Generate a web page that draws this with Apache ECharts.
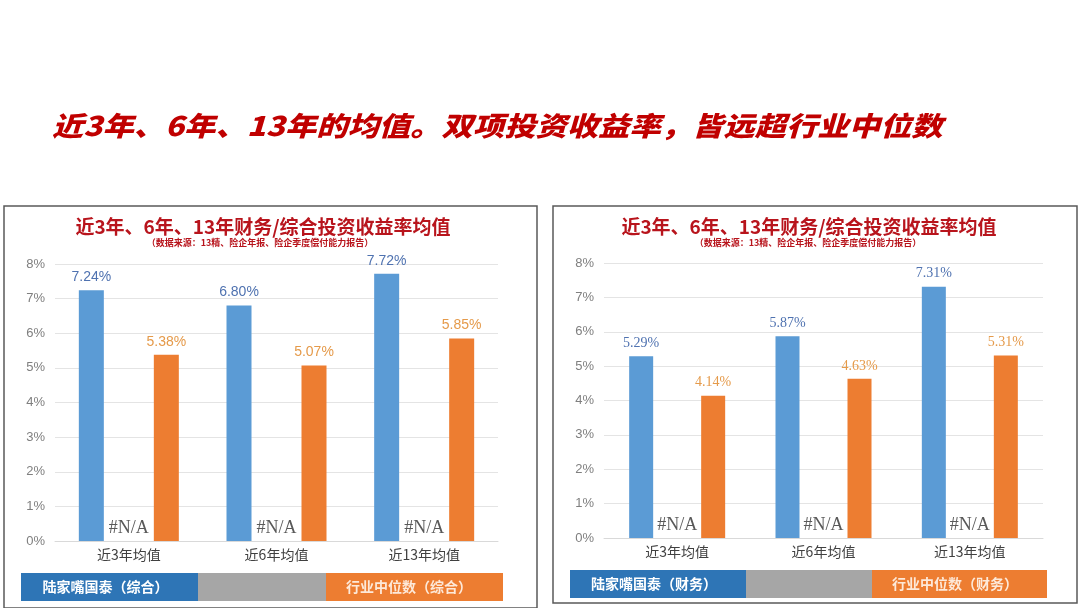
<!DOCTYPE html>
<html>
<head>
<meta charset="utf-8">
<script src="https://cdn.jsdelivr.net/npm/echarts@6/dist/echarts.min.js"></script>
<style>
html,body{margin:0;padding:0;background:#fff;}
#c{width:1080px;height:608px;}
</style>
</head>
<body>
<div id="c"></div>
<script>
const categories = ['近3年均值', '近6年均值', '近13年均值'];
const leftCompany = [7.24, 6.80, 7.72];
const leftIndustry = [5.38, 5.07, 5.85];
const rightCompany = [5.29, 5.87, 7.31];
const rightIndustry = [4.14, 4.63, 5.31];
const naValues = [0, 0, 0];
const naLabel = '#N/A';
const mainTitle = '近3年、6年、13年的均值。双项投资收益率，皆远超行业中位数';
const panelTitle = '近3年、6年、13年财务/综合投资收益率均值';
const panelSub = '（数据来源：13精、险企年报、险企季度偿付能力报告）';
const leftLegend = ['陆家嘴国泰（综合）', '', '行业中位数（综合）'];
const rightLegend = ['陆家嘴国泰（财务）', '', '行业中位数（财务）'];

const BLUE = '#5b9bd5', ORANGE = '#ed7d31', GRAY = '#a5a5a5';
const CJK = '"Noto Sans CJK SC", sans-serif';
const pct = p => p.value.toFixed(2) + '%';

function yAx(gi) {
  return {
    type: 'value', gridIndex: gi, min: 0, max: 8, interval: 1,
    axisLabel: { formatter: '{value}%', color: '#7f7f7f', fontSize: 13, margin: 10, fontFamily: '"Liberation Sans", sans-serif' },
    splitLine: { lineStyle: { color: '#e4e4e4', width: 1 } },
    axisLine: { show: false }, axisTick: { show: false }
  };
}
function xAx(gi) {
  return {
    type: 'category', gridIndex: gi, data: categories,
    axisLabel: { color: '#404040', fontSize: 14, margin: 7, fontFamily: CJK },
    axisLine: { lineStyle: { color: '#d9d9d9' } }, axisTick: { show: false }
  };
}
function barSeries(gi, data, color, labelColor, font, bw) {
  return {
    type: 'bar', xAxisIndex: gi, yAxisIndex: gi, data: data, barWidth: bw, barGap: '50%',
    itemStyle: { color: color },
    label: { show: true, position: 'top', distance: 6, formatter: pct, color: labelColor, fontSize: 14, fontFamily: font }
  };
}
function naSeries(gi, bw) {
  return {
    type: 'bar', xAxisIndex: gi, yAxisIndex: gi, data: naValues, barWidth: bw, barGap: '50%',
    itemStyle: { color: GRAY },
    label: { show: true, position: 'top', distance: 4, formatter: naLabel, color: '#595959', fontSize: 18, fontFamily: '"Liberation Serif", serif' }
  };
}

function legendBlocks(x0, x1, x2, x3, y, h, texts) {
  return [
    { type: 'rect', shape: { x: x0, y: y, width: x1 - x0, height: h }, style: { fill: '#2e75b6' } },
    { type: 'rect', shape: { x: x1, y: y, width: x2 - x1, height: h }, style: { fill: '#a6a6a6' } },
    { type: 'rect', shape: { x: x2, y: y, width: x3 - x2, height: h }, style: { fill: ORANGE } },
    { type: 'text', x: (x0 + x1) / 2 - 4, y: y + h / 2, style: { text: texts[0], fill: '#ffffff', font: 'bold 14px ' + CJK, textAlign: 'center', textVerticalAlign: 'middle' } },
    { type: 'text', x: x2 + 20, y: y + h / 2, style: { text: texts[2], fill: '#fde9d9', font: 'bold 14px ' + CJK, textAlign: 'left', textVerticalAlign: 'middle' } }
  ];
}

const chart = echarts.init(document.getElementById('c'));
chart.setOption({
  backgroundColor: '#ffffff',
  animation: false,
  grid: [
    { left: 55, top: 264, width: 443, height: 277 },
    { left: 604, top: 263, width: 439, height: 275 }
  ],
  xAxis: [xAx(0), xAx(1)],
  yAxis: [yAx(0), yAx(1)],
  series: [
    barSeries(0, leftCompany, BLUE, '#4f72b0', '"Liberation Sans", sans-serif', 25),
    naSeries(0, 25),
    barSeries(0, leftIndustry, ORANGE, '#e59a4a', '"Liberation Sans", sans-serif', 25),
    barSeries(1, rightCompany, BLUE, '#4f72b0', '"Liberation Serif", serif', 24),
    naSeries(1, 24),
    barSeries(1, rightIndustry, ORANGE, '#e59a4a', '"Liberation Serif", serif', 24)
  ],
  graphic: [
    { type: 'text', x: 52, y: 126, scaleX: 1.16,
      style: { text: mainTitle, fill: '#c00000', font: 'italic 900 27px ' + CJK, textVerticalAlign: 'middle',
        textShadowColor: 'rgba(230,120,120,0.6)', textShadowOffsetX: 2, textShadowOffsetY: 2, textShadowBlur: 0 } },
    { type: 'rect', shape: { x: 4, y: 206, width: 533, height: 402 }, style: { fill: 'none', stroke: '#595959', lineWidth: 1.5 } },
    { type: 'rect', shape: { x: 553, y: 206, width: 524, height: 397 }, style: { fill: 'none', stroke: '#595959', lineWidth: 1.5 } },
    { type: 'text', x: 263, y: 227, style: { text: panelTitle, fill: '#b8141c', font: 'bold 19px ' + CJK, textAlign: 'center', textVerticalAlign: 'middle' } },
    { type: 'text', x: 260, y: 243, style: { text: panelSub, fill: '#b8141c', font: 'bold 9px ' + CJK, textAlign: 'center', textVerticalAlign: 'middle' } },
    { type: 'text', x: 809, y: 227, style: { text: panelTitle, fill: '#b8141c', font: 'bold 19px ' + CJK, textAlign: 'center', textVerticalAlign: 'middle' } },
    { type: 'text', x: 808, y: 243, style: { text: panelSub, fill: '#b8141c', font: 'bold 9px ' + CJK, textAlign: 'center', textVerticalAlign: 'middle' } }
  ].concat(legendBlocks(21, 198, 326, 503, 573, 28, leftLegend))
   .concat(legendBlocks(570, 746, 872, 1047, 570, 28, rightLegend))
});
</script>
</body>
</html>
